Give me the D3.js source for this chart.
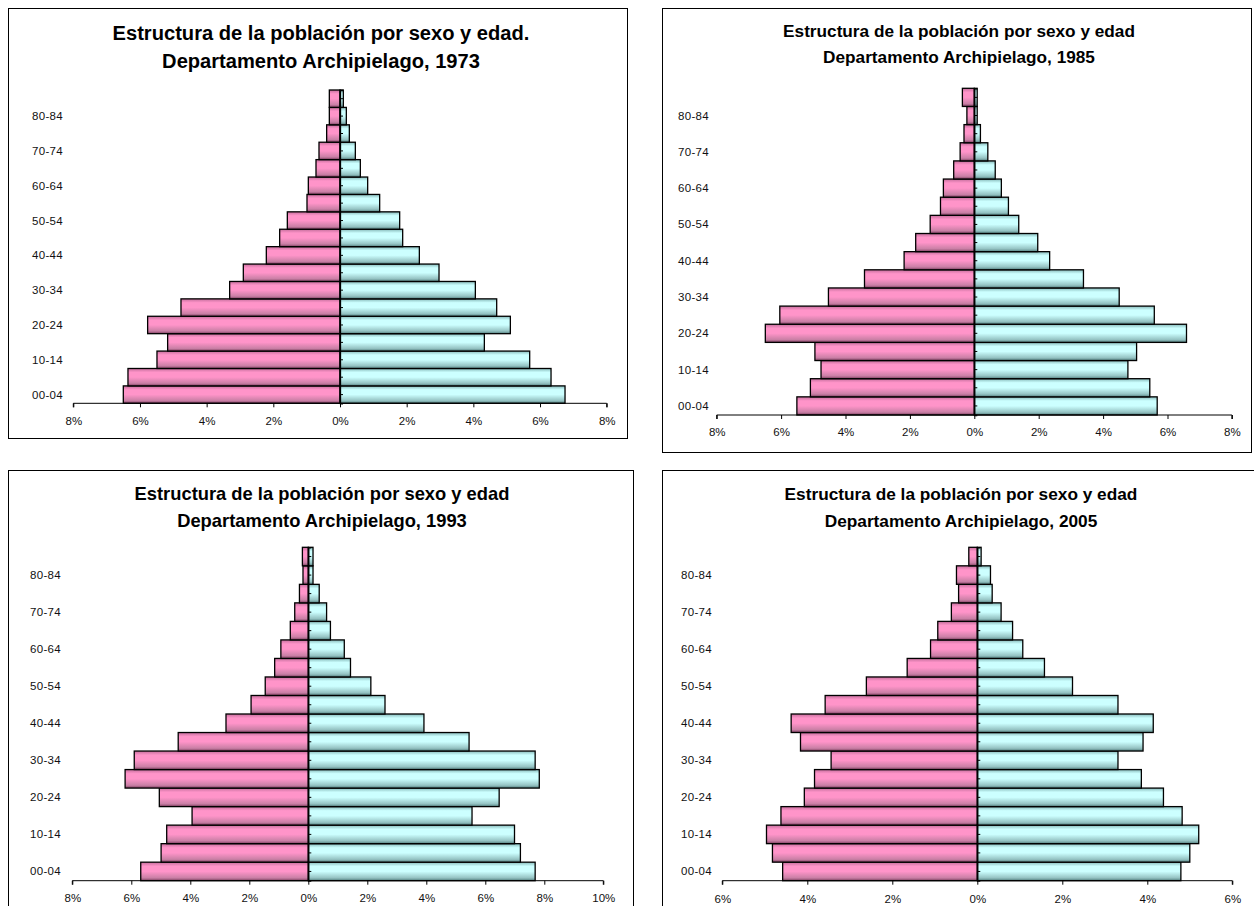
<!DOCTYPE html>
<html>
<head>
<meta charset="utf-8">
<script src="https://cdn.jsdelivr.net/npm/d3@7"></script>
<style>
  html, body { margin: 0; padding: 0; background: #fff; }
  svg { display: block; }
  text { font-family: "Liberation Sans", Arial, sans-serif; }
</style>
</head>
<body>
<svg id="chart" width="1254" height="906"></svg>
<script>
// ---------- DATA ----------
const ageGroups = ["00-04","05-09","10-14","15-19","20-24","25-29","30-34","35-39","40-44",
                   "45-49","50-54","55-59","60-64","65-69","70-74","75-79","80-84","85+"];
const shownAgeLabels = ["00-04","10-14","20-24","30-34","40-44","50-54","60-64","70-74","80-84"];

const years = ["1973","1985","1993","2005"];

// left (pink) and right (light blue) series, % of population, from 00-04 upwards
const left1973  = [6.50,6.36,5.49,5.17,5.77,4.77,3.31,2.90,2.21,1.81,1.58,0.99,0.95,0.72,0.63,0.40,0.32,0.32];
const right1973 = [6.75,6.33,5.69,4.33,5.11,4.70,4.06,2.97,2.38,1.88,1.79,1.19,0.83,0.61,0.46,0.28,0.19,0.10];

const left1985  = [5.51,5.09,4.76,4.95,6.49,6.04,4.53,3.41,2.18,1.82,1.37,1.05,0.96,0.64,0.44,0.32,0.23,0.37];
const right1985 = [5.68,5.45,4.77,5.04,6.59,5.59,4.50,3.39,2.34,1.97,1.38,1.06,0.84,0.65,0.42,0.19,0.09,0.09];

const left1993  = [5.68,4.99,4.80,3.94,5.05,6.21,5.90,4.41,2.79,1.94,1.46,1.14,0.93,0.61,0.46,0.30,0.18,0.20];
const right1993 = [7.69,7.19,6.99,5.55,6.47,7.83,7.69,5.45,3.92,2.60,2.12,1.43,1.22,0.75,0.62,0.37,0.16,0.16];

const left2005  = [4.58,4.82,4.96,4.62,4.07,3.83,3.44,4.16,4.38,3.58,2.61,1.65,1.10,0.93,0.61,0.44,0.49,0.20];
const right2005 = [4.79,5.00,5.21,4.82,4.38,3.86,3.31,3.90,4.14,3.31,2.24,1.58,1.07,0.83,0.56,0.35,0.31,0.09];

const titleLine1 = ["Estructura de la población por sexo y edad.",
                    "Estructura de la población por sexo y edad",
                    "Estructura de la población por sexo y edad",
                    "Estructura de la población por sexo y edad"];
const titleLine2 = years.map(y => "Departamento Archipielago, " + y);

const xTicks1973 = [-8,-6,-4,-2,0,2,4,6,8];
const xTicks1985 = [-8,-6,-4,-2,0,2,4,6,8];
const xTicks1993 = [-8,-6,-4,-2,0,2,4,6,8,10];
const xTicks2005 = [-6,-4,-2,0,2,4,6];

const xDomain1973 = [-8, 8];
const xDomain1985 = [-8, 8];
const xDomain1993 = [-8, 10];
const xDomain2005 = [-6, 6];

// ---------- LAYOUT ----------
const layout = [
  { frame:[8,8,627,438],   xr:[73.3,606.7],  yr:[90,403.3],    tx:321, t1y:40,  t2y:68,  tw1:417, tfs:17,  lblX:63,  tickY:427 },
  { frame:[662,8,1251,452],xr:[716.7,1231.9],yr:[88.3,415],    tx:959, t1y:37,  t2y:63,  tw1:352, tfs:14.5,lblX:709, tickY:438 },
  { frame:[8,470,633,915], xr:[72.3,603.3],  yr:[547.3,880.7], tx:322, t1y:500, t2y:527, tw1:375, tfs:15.5,lblX:61,  tickY:904 },
  { frame:[662,470,1260,915],xr:[722.3,1232.3],yr:[547.3,880.7],tx:961,t1y:500, t2y:527, tw1:353, tfs:14.5,lblX:712, tickY:905 }
];

const panels = [
  { left:left1973, right:right1973, ticks:xTicks1973, dom:xDomain1973 },
  { left:left1985, right:right1985, ticks:xTicks1985, dom:xDomain1985 },
  { left:left1993, right:right1993, ticks:xTicks1993, dom:xDomain1993 },
  { left:left2005, right:right2005, ticks:xTicks2005, dom:xDomain2005 }
];

const svg = d3.select("#chart");
const defs = svg.append("defs");

function grad(id, edgeTop, mid, edgeBot, dark) {
  const g = defs.append("linearGradient").attr("id", id)
    .attr("x1",0).attr("y1",0).attr("x2",0).attr("y2",1);
  g.append("stop").attr("offset","0%").attr("stop-color", edgeTop);
  g.append("stop").attr("offset","22%").attr("stop-color", mid);
  g.append("stop").attr("offset","50%").attr("stop-color", mid);
  g.append("stop").attr("offset","85%").attr("stop-color", edgeBot);
  g.append("stop").attr("offset","100%").attr("stop-color", dark);
}
grad("gPink", "#c46e9c", "#ff94c9", "#c97fa5", "#7c3d5e");
grad("gBlue", "#86b9b9", "#ccffff", "#94c2c2", "#507c7c");

panels.forEach((p, i) => {
  const L = layout[i];
  const g = svg.append("g");

  // frame
  g.append("rect")
    .attr("x", L.frame[0] + 0.5).attr("y", L.frame[1] + 0.5)
    .attr("width", L.frame[2] - L.frame[0]).attr("height", L.frame[3] - L.frame[1])
    .attr("fill", "#fff").attr("stroke", "#000").attr("stroke-width", 1);

  // titles
  const t1 = g.append("text").attr("x", L.tx).attr("y", L.t1y)
    .attr("text-anchor","middle").attr("font-weight","bold")
    .attr("font-size", L.tfs).attr("fill","#000").text(titleLine1[i]);
  const t2 = g.append("text").attr("x", L.tx).attr("y", L.t2y)
    .attr("text-anchor","middle").attr("font-weight","bold")
    .attr("font-size", L.tfs).attr("fill","#000").text(titleLine2[i]);
  const w = t1.node().getComputedTextLength();
  const fs = L.tfs * L.tw1 / w;
  t1.attr("font-size", fs); t2.attr("font-size", fs);

  const x = d3.scaleLinear().domain(p.dom).range(L.xr);
  const y = d3.scaleBand().domain(ageGroups).range([L.yr[1], L.yr[0]]).padding(0);

  g.append("g").selectAll("rect").data(p.left).join("rect")
    .attr("x", d => x(-d)).attr("width", d => x(0) - x(-d))
    .attr("y", (d, k) => y(ageGroups[k])).attr("height", y.bandwidth())
    .attr("fill", "url(#gPink)").attr("stroke", "#000").attr("stroke-width", 1.3);
  g.append("g").selectAll("rect").data(p.right).join("rect")
    .attr("x", x(0)).attr("width", d => x(d) - x(0))
    .attr("y", (d, k) => y(ageGroups[k])).attr("height", y.bandwidth())
    .attr("fill", "url(#gBlue)").attr("stroke", "#000").attr("stroke-width", 1.3);

  const yAxis = d3.axisRight(y).tickSize(3).tickFormat("");
  const ya = g.append("g").attr("transform", `translate(${x(0)},0)`).call(yAxis);
  ya.select(".domain").attr("stroke","#000").attr("stroke-width",1.3);
  ya.selectAll(".tick line").attr("stroke","#000");

  g.append("g").selectAll("text").data(shownAgeLabels).join("text")
    .attr("x", L.lblX).attr("y", d => y(d) + y.bandwidth() / 2 + 4)
    .attr("text-anchor","end").attr("font-size", 11.5).attr("letter-spacing", 0.3)
    .attr("fill","#111").text(d => d);

  const xAxis = d3.axisBottom(x).tickValues(p.ticks).tickSize(4)
    .tickFormat(d => Math.abs(d) + "%");
  const xa = g.append("g").attr("transform", `translate(0,${L.yr[1]})`).call(xAxis);
  xa.select(".domain").attr("stroke","#000").attr("d", `M${L.xr[0]},4V0H${L.xr[1]}V4`);
  xa.selectAll(".tick line").attr("stroke","#000");
  xa.selectAll(".tick text").attr("font-size", 11.5).attr("fill","#111")
    .attr("y", L.tickY - L.yr[1] - 10).attr("dy", "0.71em")
    .style("font-family", '"Liberation Sans", Arial, sans-serif');
});
</script>
</body>
</html>
